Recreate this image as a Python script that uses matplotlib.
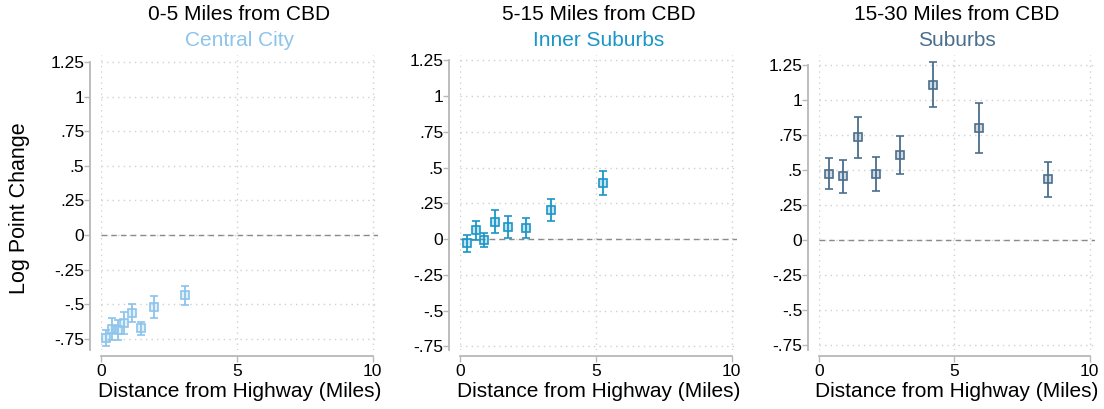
import numpy as np
import matplotlib
matplotlib.use("Agg")
import matplotlib.pyplot as plt
from matplotlib.colors import to_rgba

plt.rcParams['font.family'] = ['Liberation Sans', 'DejaVu Sans']

# datos (distancia, coeficiente, IC inferior, IC superior)
titulos = ["0-5 Miles from CBD", "5-15 Miles from CBD", "15-30 Miles from CBD"]
subtitulos = ["Central City", "Inner Suburbs", "Suburbs"]
colores = ["#8cc4ec", "#1a96c8", "#4a6e8e"]

dist_central = [0.20, 0.42, 0.61, 0.86, 1.13, 1.48, 1.97, 3.08]
coef_central = [-0.746, -0.680, -0.685, -0.637, -0.565, -0.676, -0.521, -0.437]
lo_central = [-0.806, -0.758, -0.758, -0.717, -0.632, -0.724, -0.603, -0.504]
hi_central = [-0.690, -0.603, -0.613, -0.560, -0.500, -0.627, -0.444, -0.372]

dist_inner = [0.27, 0.58, 0.90, 1.30, 1.77, 2.42, 3.34, 5.25]
coef_inner = [-0.031, 0.061, -0.005, 0.122, 0.082, 0.075, 0.202, 0.395]
lo_inner = [-0.089, -0.005, -0.056, 0.042, 0.005, 0.005, 0.125, 0.311]
hi_inner = [0.028, 0.125, 0.040, 0.200, 0.160, 0.146, 0.282, 0.478]

dist_sub = [0.38, 0.90, 1.44, 2.10, 3.00, 4.22, 5.92, 8.46]
coef_sub = [0.474, 0.455, 0.736, 0.471, 0.607, 1.110, 0.802, 0.433]
lo_sub = [0.362, 0.333, 0.588, 0.350, 0.471, 0.948, 0.621, 0.310]
hi_sub = [0.583, 0.571, 0.881, 0.590, 0.745, 1.271, 0.981, 0.560]

datos = [
    (dist_central, coef_central, lo_central, hi_central),
    (dist_inner, coef_inner, lo_inner, hi_inner),
    (dist_sub, coef_sub, lo_sub, hi_sub),
]

yticks = [1.25, 1, 0.75, 0.5, 0.25, 0, -0.25, -0.5, -0.75]
yticklabels = ["1.25", "1", ".75", ".5", ".25", "0", "-.25", "-.5", "-.75"]
xticks = [0, 5, 10]

# posiciones de cada panel en pixeles (izq, abajo, der, arriba) y limites y
W, H = 1104, 409
paneles = [
    (101, 350, 378, 55, (-0.833, 1.304)),
    (460, 350, 737, 55, (-0.776, 1.287)),
    (819, 350, 1095, 55, (-0.786, 1.321)),
]

fig = plt.figure(figsize=(W / 100, H / 100), dpi=100)

for i, (x0, yb, x1, yt, ylim) in enumerate(paneles):
    ax = fig.add_axes([x0 / W, (H - yb) / H, (x1 - x0) / W, (yb - yt) / H])
    dist, coef, lo, hi = [np.array(v) for v in datos[i]]
    c = colores[i]
    ax.errorbar(dist, coef, yerr=[coef - lo, hi - coef], fmt='s', color=c,
                ecolor=c, elinewidth=1.3, capsize=3, capthick=1.3,
                markersize=5.5, markerfacecolor=to_rgba(c, 0.25),
                markeredgecolor=c, markeredgewidth=1.2, zorder=3)
    ax.axhline(0, color='#8a8a8a', linestyle=(0, (4, 3)), linewidth=1, zorder=2)

    ax.set_xlim(0, 10.2)
    ax.set_ylim(*ylim)
    ax.set_xticks(xticks)
    ax.set_xticklabels([str(t) for t in xticks])
    ax.set_yticks(yticks)
    ax.set_yticklabels(yticklabels)
    ax.grid(True, color='#d0d0d0', linestyle=(0, (1, 3)), linewidth=1)
    ax.set_axisbelow(True)

    for s in ['top', 'right']:
        ax.spines[s].set_visible(False)
    ax.spines['left'].set_position(('outward', 8))
    ax.spines['bottom'].set_position(('outward', 4))
    ax.spines['left'].set_bounds(ylim[0], 1.25)
    ax.spines['bottom'].set_bounds(0, 10)
    for s in ['left', 'bottom']:
        ax.spines[s].set_color('#b8b8b8')
        ax.spines[s].set_linewidth(1.3)
    ax.tick_params(axis='both', colors='#b8b8b8', labelcolor='black',
                   labelsize=12.5, length=4, width=1, pad=2)
    ax.tick_params(axis='y', pad=0)

    ax.set_xlabel("Distance from Highway (Miles)", fontsize=15, labelpad=2)

    cx = (x0 + x1) / 2 / W
    fig.text(cx, 1 - 15 / H, titulos[i], ha='center', va='center', fontsize=15)
    fig.text(cx, 1 - 41 / H, subtitulos[i], ha='center', va='center',
             fontsize=15, color=c)

fig.text(20 / W, 1 - 208 / H, "Log Point Change", rotation=90,
         ha='center', va='center', fontsize=15.5)

fig.savefig("out.png", dpi=100)
